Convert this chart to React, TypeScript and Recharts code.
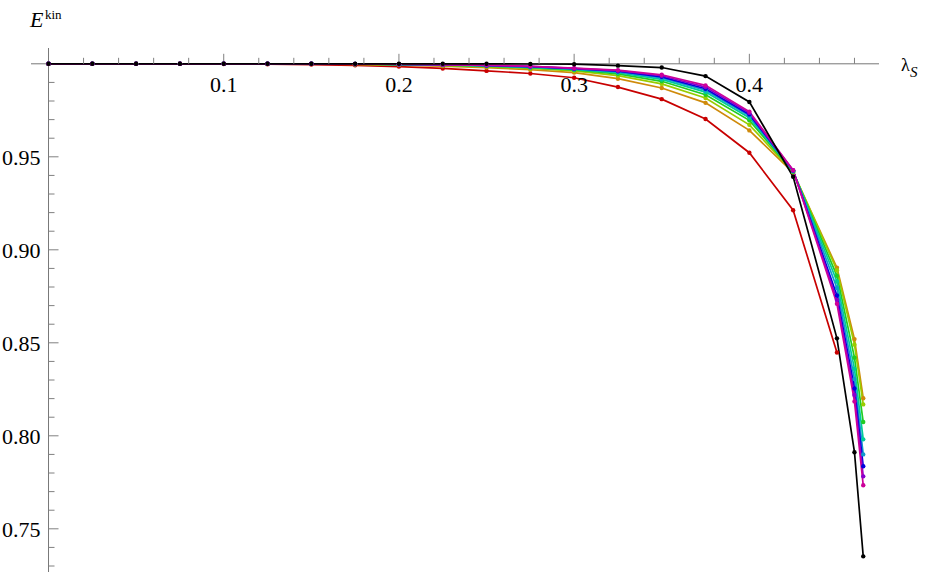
import { LineChart, Line, XAxis, YAxis, ReferenceLine, ReferenceDot } from 'recharts';

// lambda_S sample points
const lambdas = [
  0, 0.025, 0.05, 0.075, 0.1, 0.125, 0.15, 0.175, 0.2, 0.225, 0.25, 0.275,
  0.3, 0.325, 0.35, 0.375, 0.4, 0.425, 0.45, 0.46, 0.465,
];

const black = [1, 1, 1, 1, 1, 1, 1, 1, 1, 1, 1, 0.9999, 0.9998, 0.999, 0.998, 0.9934, 0.9795, 0.9393, 0.8524, 0.7912, 0.7352];
const red = [1, 1, 1, 1, 0.9999, 0.9998, 0.9996, 0.9992, 0.9985, 0.9975, 0.9962, 0.9948, 0.9925, 0.9875, 0.981, 0.9703, 0.9522, 0.9213, 0.8448, null, null];
const orange = [1, 1, 1, 1, 1, 1, 0.9999, 0.9997, 0.9993, 0.9988, 0.998, 0.9968, 0.9953, 0.992, 0.987, 0.979, 0.9642, 0.9415, 0.8904, 0.852, 0.8202];
const yellowGreen = [1, 1, 1, 1, 1, 1, 1, 0.9998, 0.9995, 0.9991, 0.9985, 0.9975, 0.9962, 0.9936, 0.9892, 0.9816, 0.9672, 0.9418, 0.889, 0.849, 0.8169];
const green = [1, 1, 1, 1, 1, 1, 1, 0.9998, 0.9996, 0.9993, 0.9988, 0.9979, 0.9967, 0.9946, 0.9906, 0.9834, 0.9696, 0.942, 0.886, 0.842, 0.8074];
const teal = [1, 1, 1, 1, 1, 1, 1, 0.9999, 0.9997, 0.9994, 0.9989, 0.9981, 0.997, 0.9952, 0.9916, 0.9848, 0.971, 0.9422, 0.883, 0.836, 0.7981];
const cyan = [1, 1, 1, 1, 1, 1, 1, 0.9999, 0.9997, 0.9995, 0.999, 0.9983, 0.9972, 0.9957, 0.9924, 0.9858, 0.972, 0.9424, 0.8795, 0.8305, 0.79];
const blue = [1, 1, 1, 1, 1, 1, 1, 0.9999, 0.9997, 0.9995, 0.9991, 0.9985, 0.9974, 0.996, 0.993, 0.9866, 0.9728, 0.9426, 0.8755, 0.8255, 0.7836];
const purple = [1, 1, 1, 1, 1, 1, 1, 0.9999, 0.9998, 0.9996, 0.9992, 0.9986, 0.9975, 0.9963, 0.9936, 0.9875, 0.9736, 0.9427, 0.873, 0.822, 0.7782];
const magenta = [1, 1, 1, 1, 1, 1, 1, 0.9999, 0.9998, 0.9996, 0.9993, 0.9987, 0.9977, 0.9966, 0.9941, 0.9884, 0.9743, 0.9428, 0.871, 0.8185, 0.7734];

const xMajorTicks = [0.1, 0.2, 0.3, 0.4];
const xMinorTicks = [0.02, 0.04, 0.06, 0.08, 0.12, 0.14, 0.16, 0.18, 0.22, 0.24, 0.26, 0.28, 0.32, 0.34, 0.36, 0.38, 0.42, 0.44, 0.46];
const yMajorTicks = [0.75, 0.8, 0.85, 0.9, 0.95];
const yMinorTicks = [0.73, 0.74, 0.76, 0.77, 0.78, 0.79, 0.81, 0.82, 0.83, 0.84, 0.86, 0.87, 0.88, 0.89, 0.91, 0.92, 0.93, 0.94, 0.96, 0.97, 0.98, 0.99];

// drawn bottom to top
const series = [
  { key: 'red', values: red, color: '#C80000' },
  { key: 'orange', values: orange, color: '#CF8A0A' },
  { key: 'yellowGreen', values: yellowGreen, color: '#99CC00' },
  { key: 'green', values: green, color: '#22CC22' },
  { key: 'teal', values: teal, color: '#00CC99' },
  { key: 'cyan', values: cyan, color: '#1199CC' },
  { key: 'blue', values: blue, color: '#0000DD' },
  { key: 'purple', values: purple, color: '#8800CC' },
  { key: 'magenta', values: magenta, color: '#CC0099' },
  { key: 'black', values: black, color: '#000000' },
];

const data = lambdas.map((l, i) => {
  const row: Record<string, number | null> = { lambda: l };
  series.forEach((s) => {
    row[s.key] = s.values[i];
  });
  return row;
});

const FONT = '"Liberation Serif", serif';
const TICK_COLOR = '#808080';

const xTickShape = (value: number, major: boolean) => (props: any) => {
  const { cx, cy } = props;
  return (
    <g>
      <line x1={cx} x2={cx} y1={cy} y2={cy - (major ? 10 : 6)} stroke={TICK_COLOR} strokeWidth={1} />
      {major && (
        <text x={cx} y={cy + 28} textAnchor="middle" fontFamily={FONT} fontSize={22} fill="#000">
          {value.toFixed(1)}
        </text>
      )}
    </g>
  );
};

const yTickShape = (value: number, major: boolean) => (props: any) => {
  const { cx, cy } = props;
  return (
    <g>
      <line x1={cx} x2={cx + (major ? 10 : 6)} y1={cy} y2={cy} stroke={TICK_COLOR} strokeWidth={1} />
      {major && (
        <text x={cx - 8} y={cy + 8} textAnchor="end" fontFamily={FONT} fontSize={22} fill="#000">
          {value.toFixed(2)}
        </text>
      )}
    </g>
  );
};

export default function App() {
  return (
    <div style={{ position: 'absolute', left: 0, top: 0, width: 926, height: 574, background: '#fff' }}>
      <LineChart width={926} height={574} data={data} margin={{ top: 48, right: 47, bottom: 2, left: 31 }}>
        <XAxis dataKey="lambda" type="number" domain={[-0.01, 0.474]} hide allowDataOverflow />
        <YAxis type="number" domain={[0.72678, 1.0085]} hide allowDataOverflow />

        <ReferenceLine y={1} stroke="#777" strokeWidth={1} />
        <ReferenceLine x={0} stroke="#777" strokeWidth={1} />
        {xMinorTicks.map((t) => (
          <ReferenceDot key={`xm-${t}`} x={t} y={1} shape={xTickShape(t, false)} />
        ))}
        {xMajorTicks.map((t) => (
          <ReferenceDot key={`xM-${t}`} x={t} y={1} shape={xTickShape(t, true)} />
        ))}
        {yMinorTicks.map((t) => (
          <ReferenceDot key={`ym-${t}`} x={0} y={t} shape={yTickShape(t, false)} />
        ))}
        {yMajorTicks.map((t) => (
          <ReferenceDot key={`yM-${t}`} x={0} y={t} shape={yTickShape(t, true)} />
        ))}

        {series.map((s) => (
          <Line
            key={s.key}
            dataKey={s.key}
            stroke={s.color}
            strokeWidth={1.7}
            dot={{ r: 2.2, fill: s.color, stroke: s.color, strokeWidth: 0 }}
            activeDot={false}
            isAnimationActive={false}
          />
        ))}
      </LineChart>

      <svg width={926} height={574} style={{ position: 'absolute', left: 0, top: 0, pointerEvents: 'none' }}>
        <text x={30} y={27} fontFamily={FONT} fontSize={22} fontStyle="italic">E</text>
        <text x={45} y={18.5} fontFamily={FONT} fontSize={13}>kin</text>
        <text x={901} y={71} fontFamily={FONT} fontSize={18}>λ</text>
        <text x={910} y={77} fontFamily={FONT} fontSize={15} fontStyle="italic">S</text>
      </svg>
    </div>
  );
}
